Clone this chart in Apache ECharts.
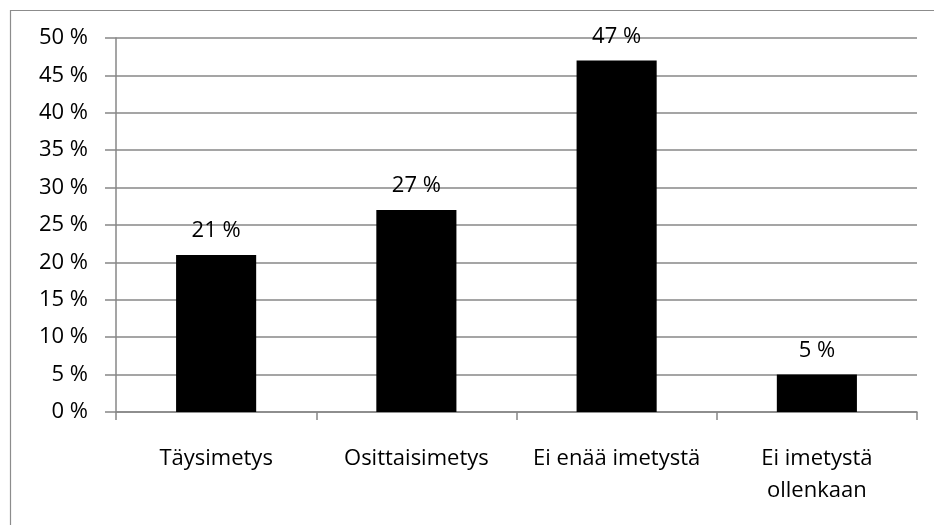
<!DOCTYPE html>
<html>
<head>
<meta charset="utf-8">
<script src="https://cdn.jsdelivr.net/npm/echarts@6/dist/echarts.min.js"></script>
<style>
  html, body { margin: 0; padding: 0; background: #ffffff; }
  #chart { width: 934px; height: 525px; }
</style>
</head>
<body>
<div id="chart"></div>
<script>
// Imetystilanne: osuudet vastaajista
const categories = ['Täysimetys', 'Osittaisimetys', 'Ei enää imetystä', 'Ei imetystä\nollenkaan'];
const shares = [21, 27, 47, 5];
const yTicks = { min: 0, max: 50, step: 5 };

const FONT = '"Open Sans", sans-serif';
const GRAY = '#878787';

const chart = echarts.init(document.getElementById('chart'), null, { renderer: 'canvas' });

chart.setOption({
  backgroundColor: '#ffffff',
  animation: false,
  textStyle: { fontFamily: FONT },
  graphic: [{
    type: 'rect',
    shape: { x: 10.5, y: 10.5, width: 940, height: 540 },
    style: { fill: 'none', stroke: '#8c8c8c', lineWidth: 1.2 },
    silent: true
  }],
  grid: { left: 116, right: 17, top: 38, bottom: 113, containLabel: false },
  xAxis: {
    type: 'category',
    data: categories,
    axisLine: { show: true, lineStyle: { color: GRAY, width: 1.5 } },
    axisTick: { show: true, alignWithLabel: false, length: 8, lineStyle: { color: GRAY, width: 1.5 } },
    axisLabel: {
      color: '#000',
      fontFamily: FONT,
      fontSize: 22,
      lineHeight: 32,
      margin: 31,
      interval: 0
    },
    splitLine: { show: false }
  },
  yAxis: {
    type: 'value',
    min: yTicks.min,
    max: yTicks.max,
    interval: yTicks.step,
    axisLine: { show: true, lineStyle: { color: GRAY, width: 1.5 } },
    axisTick: { show: true, length: 11, lineStyle: { color: GRAY, width: 1.5 } },
    axisLabel: {
      color: '#000',
      fontFamily: FONT,
      fontSize: 22,
      margin: 28,
      formatter: '{value} %'
    },
    splitLine: { show: true, lineStyle: { color: GRAY, width: 1.5 } }
  },
  series: [{
    type: 'bar',
    data: shares,
    barWidth: '40%',
    itemStyle: { color: '#000000' },
    label: {
      show: true,
      position: 'top',
      distance: 13,
      color: '#000',
      fontFamily: FONT,
      fontSize: 22,
      formatter: '{c} %'
    }
  }]
});
</script>
</body>
</html>
